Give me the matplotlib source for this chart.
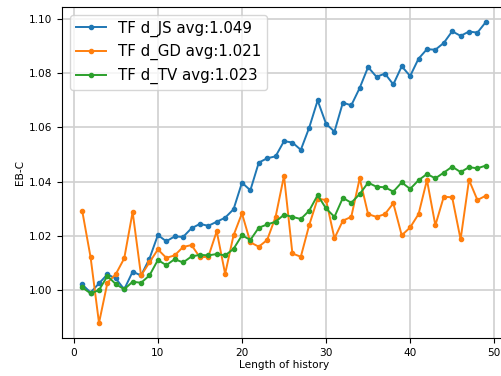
import matplotlib
matplotlib.use("Agg")
import matplotlib.pyplot as plt

# history lengths 1..49
history = list(range(1, 50))

# EB-C values
js_vals = [1.0021, 0.9991, 1.0025, 1.0058, 1.0043, 1.0003, 1.0068, 1.0054, 1.0116, 1.0203,
           1.0180, 1.0198, 1.0196, 1.0228, 1.0244, 1.0237, 1.0252, 1.0267, 1.0298, 1.0396,
           1.0368, 1.0470, 1.0486, 1.0493, 1.0549, 1.0544, 1.0517, 1.0599, 1.0699, 1.0613,
           1.0584, 1.0691, 1.0681, 1.0745, 1.0822, 1.0786, 1.0798, 1.0758, 1.0825, 1.0789,
           1.0853, 1.0888, 1.0886, 1.0911, 1.0954, 1.0937, 1.0953, 1.0949, 1.0988]
gd_vals = [1.0293, 1.0121, 0.9879, 1.0027, 1.0059, 1.0117, 1.0288, 1.0054, 1.0102, 1.0150,
           1.0119, 1.0128, 1.0159, 1.0166, 1.0121, 1.0123, 1.0217, 1.0060, 1.0202, 1.0283,
           1.0176, 1.0160, 1.0185, 1.0270, 1.0421, 1.0135, 1.0123, 1.0240, 1.0337, 1.0332,
           1.0191, 1.0256, 1.0270, 1.0412, 1.0280, 1.0270, 1.0280, 1.0320, 1.0202, 1.0231,
           1.0280, 1.0406, 1.0239, 1.0344, 1.0342, 1.0187, 1.0406, 1.0332, 1.0348]
tv_vals = [1.0010, 0.9988, 1.0000, 1.0052, 1.0022, 1.0003, 1.0031, 1.0027, 1.0054, 1.0111,
           1.0092, 1.0114, 1.0102, 1.0124, 1.0130, 1.0128, 1.0133, 1.0128, 1.0152, 1.0202,
           1.0185, 1.0230, 1.0242, 1.0252, 1.0278, 1.0270, 1.0262, 1.0293, 1.0350, 1.0301,
           1.0270, 1.0340, 1.0322, 1.0354, 1.0396, 1.0381, 1.0379, 1.0363, 1.0397, 1.0373,
           1.0405, 1.0428, 1.0412, 1.0433, 1.0455, 1.0435, 1.0453, 1.0449, 1.0459]

labels = ["TF d_JS avg:1.049", "TF d_GD avg:1.021", "TF d_TV avg:1.023"]

fig = plt.figure(figsize=(5.01, 3.76), dpi=100)
ax = fig.add_axes([62 / 501, 38 / 376, 444 / 501, 331 / 376])

for vals, lab in zip([js_vals, gd_vals, tv_vals], labels):
    ax.plot(history, vals, marker='.', markersize=6, linewidth=1.4, label=lab)

ax.grid(True, color='#d0d0d0', linewidth=1.2)
ax.set_xticks([0, 10, 20, 30, 40, 50])
ax.set_yticks([1.00, 1.02, 1.04, 1.06, 1.08, 1.10])
ax.tick_params(labelsize=7.6, width=0.8)
ax.set_xlabel("Length of history", fontsize=7.6, labelpad=2)
ax.set_ylabel("EB-C", fontsize=7.6, labelpad=3)
ax.spines['right'].set_visible(False)
for s in ['left', 'top', 'bottom']:
    ax.spines[s].set_linewidth(0.8)
ax.legend(loc='upper left', fontsize=10.8)

fig.savefig("out.png", dpi=100)
